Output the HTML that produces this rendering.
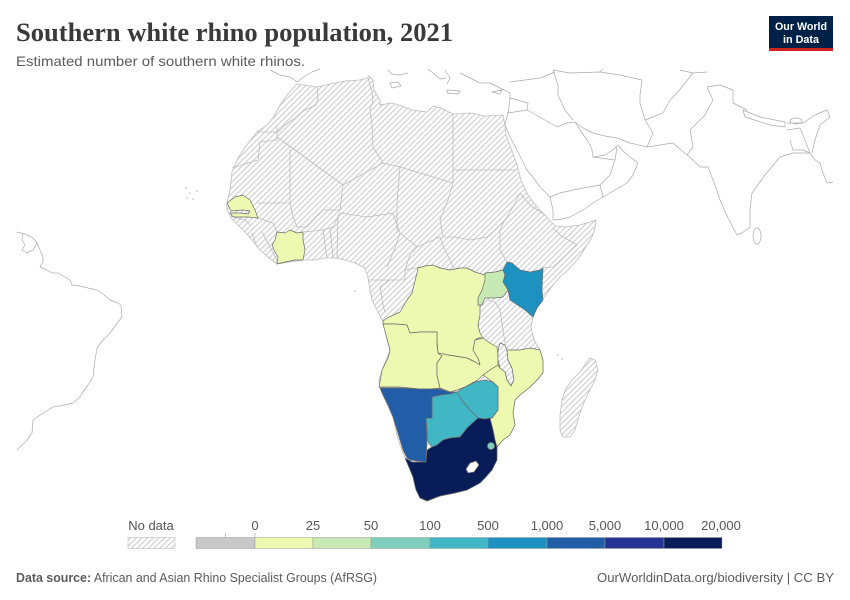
<!DOCTYPE html>
<html><head><meta charset="utf-8"><style>
html,body{margin:0;padding:0;background:#fff;}
svg{display:block;}
text{font-family:"Liberation Sans",sans-serif;}
</style></head><body>
<svg width="850" height="600" viewBox="0 0 850 600" xmlns="http://www.w3.org/2000/svg">
<defs>
<pattern id="h" width="4" height="4" patternUnits="userSpaceOnUse" patternTransform="rotate(45)">
<rect width="4" height="4" fill="#fff"/>
<line x1="0.6" y1="0" x2="0.6" y2="4" stroke="#d2d2d2" stroke-width="1.3"/>
</pattern>
<clipPath id="mc"><rect x="0" y="69" width="850" height="445"/></clipPath>
</defs>
<rect width="850" height="600" fill="#fff"/>

<!-- Header -->
<text x="16" y="41" font-size="26" font-weight="bold" fill="#3a3a3a" textLength="437" lengthAdjust="spacingAndGlyphs" style="font-family:'Liberation Serif',serif">Southern white rhino population, 2021</text>
<text x="16" y="66" font-size="14" fill="#5b5b5b" textLength="289" lengthAdjust="spacingAndGlyphs">Estimated number of southern white rhinos.</text>

<!-- Logo -->
<rect x="769" y="16" width="64" height="35" fill="#002147"/>
<rect x="769" y="48" width="64" height="3" fill="#ce261e"/>
<text x="801" y="30" font-size="11" font-weight="bold" fill="#fff" text-anchor="middle" textLength="52" lengthAdjust="spacingAndGlyphs">Our World</text>
<text x="801" y="43" font-size="11" font-weight="bold" fill="#fff" text-anchor="middle" textLength="36" lengthAdjust="spacingAndGlyphs">in Data</text>

<g clip-path="url(#mc)">
<!-- Africa base (no data) -->
<path fill="url(#h)" stroke="#bdbdbd" stroke-width="0.8" stroke-linejoin="round" d="M297,84 L317,87 L330,84 L345,81 L360,80 L367,78 L369,76 L373,80 L374,90 L380,100 L380,105 L392,103 L402,106 L412,110 L427,112 L433,106 L441,108 L453,114 L470,113 L485,116 L503,115 L505,125 L506,135 L511,148 L517,165 L521,180 L528,195 L537,207 L545,215 L551,222 L556,226 L566,227 L580,225 L590,222 L596,220 L595,228 L592,237 L584,250 L577,260 L568,270 L560,277 L553,285 L547,293 L542,300 L537,308 L533,317 L531,327 L534,340 L538,347 L540,350 L543,360 L543,373 L537,380 L530,387 L520,395 L515,400 L513,413 L515,425 L510,435 L503,440 L497,447 L497,460 L492,470 L480,483 L467,490 L450,494 L440,496 L427,501 L420,498 L415,487 L413,477 L408,465 L405,458 L400,445 L397,435 L393,417 L385,400 L380,388 L379,380 L382,370 L387,358 L390,350 L386,335 L383,322 L378,312 L372,300 L370,290 L368,278 L365,268 L355,263 L345,260 L335,258 L325,258 L315,260 L303,260 L290,262 L277,264 L268,257 L260,250 L252,240 L245,232 L238,225 L231,218 L227,210 L227,203 L230,190 L232,172 L238,158 L246,146 L257,132 L266,126 L273,118 L280,105 L287,95 Z"/>
<!-- Madagascar -->
<path fill="url(#h)" stroke="#bdbdbd" stroke-width="0.8" d="M590,358 L595,360 L598,370 L595,380 L590,390 L585,400 L580,413 L575,430 L570,437 L563,437 L560,430 L560,415 L562,400 L565,390 L572,380 L580,372 L587,362 Z"/>

<!-- internal no-data borders -->
<g fill="none" stroke="#bdbdbd" stroke-width="0.8" stroke-linejoin="round">
<path d="M317,87 L318,98 L316,105 L305,110 L295,118 L285,125 L278,132 L257,132"/>
<path d="M277,127 L277,140 L260,142 L258,160 L232,168"/>
<path d="M277,137 L343,185 L383,163"/>
<path d="M290,150 L290,203 L257,203"/>
<path d="M368,78 L372,92 L373,100 L370,110 L372,125 L373,147 L383,163 L400,167 L453,183"/>
<path d="M343,185 L340,210 L323,210"/>
<path d="M400,167 L397,203 L397,233"/>
<path d="M340,213 L367,217 L393,213 L400,233"/>
<path d="M453,183 L448,200 L440,220 L443,237"/>
<path d="M400,233 L417,247 L440,237"/>
<path d="M400,233 L395,248 L387,267"/>
<path d="M417,247 L410,255 L405,270 L405,280"/>
<path d="M368,280 L390,280 L405,280"/>
<path d="M390,280 L380,287 L383,305 L385,312"/>
<path d="M405,270 L420,267"/>
<path d="M443,237 L455,237 L470,240 L487,237 L498,227 L505,220 L513,207"/>
<path d="M440,237 L445,250 L455,270"/>
<path d="M505,220 L500,230 L500,250 L507,262"/>
<path d="M513,207 L520,193"/>
<path d="M520,193 L530,205 L545,215"/>
<path d="M553,228 L560,235 L577,245 L553,267 L540,268"/>
<path d="M453,114 L453,183"/>
<path d="M453,170 L517,170"/>
<path d="M290,203 L293,217 L297,227 L307,227 L323,210"/>
<path d="M303,232 L323,230 L333,227 L340,213"/>
<path d="M323,230 L327,258"/>
<path d="M330,228 L333,258"/>
<path d="M338,215 L337,258"/>
<path d="M258,218 L273,223 L277,232"/>
<path d="M233,217 L245,220 L250,225"/>
<path d="M252,233 L257,247"/>
<path d="M262,232 L270,247 L277,260"/>
<path d="M487,300 L495,302 L500,310 L505,343"/>
</g>

<!-- Colored countries -->
<g stroke="#6b6b6b" stroke-width="0.7" stroke-linejoin="round">
<path fill="#edf8b1" d="M383,321 L387,318 L400,312 L407,300 L412,293 L417,273 L418,268 L425,266 L433,265 L440,268 L450,270 L460,268 L467,268 L475,272 L485,275 L487,277 L485,290 L483,303 L480,305 L480,315 L478,325 L480,333 L483,338 L478,338 L475,340 L473,350 L478,358 L480,365 L475,362 L467,358 L455,356 L448,355 L442,356 L438,353 L437,340 L437,332 L430,332 L420,332 L410,333 L407,325 L395,324 L383,324 Z"/>
<path fill="#edf8b1" d="M383,324 L395,324 L407,325 L410,333 L420,332 L437,332 L437,345 L438,353 L442,356 L437,363 L437,375 L440,388 L430,389 L420,389 L410,388 L400,387 L390,387 L379,387 L382,370 L388,358 L390,350 L386,335 Z"/>
<path fill="#edf8b1" d="M438,353 L448,355 L467,358 L475,362 L480,365 L478,358 L473,350 L475,340 L483,338 L490,343 L497,347 L498,355 L498,365 L490,370 L483,375 L478,380 L472,383 L465,387 L457,390 L450,392 L440,388 L437,375 L437,363 L442,356 Z"/>
<path fill="url(#h)" d="M500,343 L505,345 L507,350 L508,360 L512,368 L514,380 L511,386 L507,380 L505,372 L500,368 L498,360 L498,350 Z"/>
<path fill="#edf8b1" d="M507,350 L520,350 L530,348 L540,350 L543,360 L543,373 L537,380 L530,387 L520,395 L515,400 L513,413 L515,425 L510,435 L503,440 L497,447 L495,440 L493,430 L490,418 L492,418 L498,410 L498,387 L493,382 L483,375 L490,370 L498,365 L500,368 L505,372 L507,380 L511,386 L514,380 L512,368 L508,360 Z"/>
<path fill="#41b6c4" d="M457,392 L465,387 L475,382 L485,380 L493,382 L498,387 L498,400 L498,410 L492,418 L485,419 L478,418 L470,410 L463,402 Z"/>
<path fill="#41b6c4" d="M432,397 L440,395 L450,393 L457,392 L463,402 L470,410 L478,418 L470,425 L460,437 L450,438 L443,440 L437,445 L432,447 L428,442 L427,430 L426,418 L432,418 Z"/>
<path fill="#225ea8" d="M380,388 L400,388 L420,389 L440,389 L450,392 L457,392 L450,394 L440,395 L432,397 L432,418 L426,418 L427,440 L426,462 L418,461 L410,460 L407,458 L403,450 L400,440 L397,430 L393,417 L388,405 L383,395 Z"/>
<path fill="#081d58" d="M405,458 L412,462 L420,462 L426,462 L427,450 L432,447 L437,445 L443,440 L450,438 L460,437 L467,428 L478,418 L485,419 L490,418 L493,430 L495,440 L497,447 L497,455 L497,460 L492,470 L485,478 L480,483 L467,490 L455,493 L440,496 L427,501 L420,498 L416,490 L413,477 L408,465 Z"/>
<path fill="#fff" d="M466,469 L470,463 L476,461 L479,465 L474,472 L468,473 Z"/>
<circle cx="491" cy="446" r="3.6" fill="#7fcdbb"/>
<path fill="#1d91c0" d="M507,262 L512,263 L520,270 L530,272 L540,270 L543,268 L542,290 L543,300 L537,308 L533,317 L525,310 L510,300 L508,290 L503,282 L505,275 L503,270 Z"/>
<path fill="#c7e9b4" d="M485,273 L495,272 L503,270 L505,275 L503,282 L508,290 L503,297 L495,298 L485,298 L482,305 L478,305 L478,298 L482,290 L485,280 Z"/>
<path fill="#edf8b1" d="M227,203 L235,197 L243,195 L250,200 L255,210 L258,218 L248,217 L233,217 L230,213 L241,213 L248,214 L250,211 L243,210 L231,211 Z"/>
<path fill="#edf8b1" d="M277,232 L285,233 L290,230 L297,233 L303,232 L303,240 L305,250 L303,260 L295,260 L285,262 L277,264 L278,257 L274,250 L272,245 L275,240 Z"/>
</g>

<!-- White-land outlines -->
<g fill="none" stroke="#aaa" stroke-width="0.7" stroke-linejoin="round">
<path d="M505,125 L510,137 L518,152 L527,170 L535,180 L540,187 L550,197 L553,210 L553,220 L562,219 L570,217 L583,210 L593,203 L603,197 L615,190 L627,183 L633,175 L638,163 L630,157 L622,150 L618,145 L613,150 L605,155 L593,157 L592,150 L590,145 L587,140 L580,130 L575,122"/>
<path d="M575,122 L583,128 L593,133 L605,136 L617,138 L630,143 L647,147 L660,145 L673,143 L687,155 L693,160 L700,167 L708,167 L715,185 L720,200 L728,218 L737,235 L742,233 L750,227 L750,210 L752,193 L765,175 L780,157 L793,153 L800,153 L810,153 L815,160 L820,163 L823,173 L827,183 L833,182"/>
<path d="M505,125 L508,113 L510,100 L510,93 L500,88 L490,83 L480,83 L470,78 L460,73"/>
<path d="M508,113 L527,110 L528,103 L510,98"/>
<path d="M527,110 L545,120 L557,127 L567,123 L575,122"/>
<path d="M510,82 L540,78 L555,72"/>
<path d="M553,70 L558,85 L558,95 L565,110 L573,120"/>
<path d="M550,197 L560,193 L573,190 L600,185 L603,197"/>
<path d="M600,185 L610,175 L615,160 L617,147"/>
<path d="M593,157 L615,160"/>
<path d="M642,80 L640,95 L640,103 L645,120 L653,133 L647,147"/>
<path d="M645,120 L663,113 L670,100 L677,93 L693,73"/>
<path d="M707,87 L713,100 L705,115 L690,130 L693,147 L687,155"/>
<path d="M707,87 L720,85 L733,90 L733,103 L747,110"/>
<path d="M743,110 L760,117 L785,122 L785,127 L770,125 L745,117 Z"/>
<ellipse cx="796" cy="121" rx="6" ry="3"/>
<path d="M787,130 L800,128 L805,140 L810,153 L803,150 L793,150 L790,140"/>
<path d="M787,123 L803,123 L815,115 L827,110 L830,117 L820,125 L815,140 L812,153"/>
<ellipse cx="757" cy="236" rx="4" ry="8"/>
<path d="M553,70 L570,73 L600,72 L620,75 L642,80"/>
<path d="M680,70 L693,73 L707,72"/>
<path d="M600,72 L603,69"/>
<path d="M270,70 L280,75 L290,77 L297,82 L305,76 L312,72 L320,69"/>
<path d="M388,70 L392,74 L400,75 L408,73"/>
<path d="M390,83 L398,82 L401,86 L392,88 Z"/>
<path d="M428,69 L433,73 L440,79 L446,78"/>
<path d="M445,70 L450,78 L447,84"/>
<path d="M447,90 L460,91 L458,94 L447,93 Z"/>
<path d="M492,92 L502,90 L500,94 Z"/>
<path d="M17,232 L25,234 L33,238 L37,243 L40,250 L43,257 L43,262 L40,267 L47,270 L52,273 L58,273 L65,277 L70,280 L72,285 L80,286 L88,288 L97,290 L103,294 L110,300 L118,303 L121,305 L122,317 L118,322 L110,333 L103,340 L97,348 L95,360 L93,377 L88,385 L83,392 L80,397 L73,403 L65,405 L53,407 L45,412 L37,417 L33,420 L32,433 L27,440 L22,445 L17,450"/>
<path d="M23,233 L22,240 L25,245 L22,250 L27,253 L33,250 L37,243"/>
</g>
<g fill="#bbb">
<circle cx="186" cy="188" r="0.8"/><circle cx="190" cy="193" r="0.8"/><circle cx="197" cy="191" r="0.8"/><circle cx="193" cy="199" r="0.8"/><circle cx="187" cy="198" r="0.8"/>
<circle cx="558" cy="355" r="0.8"/><circle cx="562" cy="359" r="0.8"/><circle cx="355" cy="291" r="0.8"/>
</g>
</g>

<!-- Legend -->
<g font-size="13" fill="#555">
<text x="151" y="530" text-anchor="middle">No data</text>
<text x="255" y="530" text-anchor="middle">0</text>
<text x="313" y="530" text-anchor="middle">25</text>
<text x="371" y="530" text-anchor="middle">50</text>
<text x="430" y="530" text-anchor="middle">100</text>
<text x="488" y="530" text-anchor="middle">500</text>
<text x="547" y="530" text-anchor="middle">1,000</text>
<text x="605" y="530" text-anchor="middle">5,000</text>
<text x="664" y="530" text-anchor="middle">10,000</text>
<text x="721" y="530" text-anchor="middle">20,000</text>
</g>
<rect x="128" y="537.5" width="47" height="11" fill="url(#h)" stroke="#bbb" stroke-width="0.6"/>
<g stroke="#999" stroke-width="0.5">
<rect x="196" y="537.5" width="59" height="11" fill="#c8c8c8"/>
<rect x="255" y="537.5" width="58" height="11" fill="#edf8b1"/>
<rect x="313" y="537.5" width="58" height="11" fill="#c7e9b4"/>
<rect x="371" y="537.5" width="59" height="11" fill="#7fcdbb"/>
<rect x="430" y="537.5" width="58" height="11" fill="#41b6c4"/>
<rect x="488" y="537.5" width="59" height="11" fill="#1d91c0"/>
<rect x="547" y="537.5" width="58" height="11" fill="#225ea8"/>
<rect x="605" y="537.5" width="59" height="11" fill="#253494"/>
<rect x="664" y="537.5" width="58" height="11" fill="#081d58"/>
</g>
<g stroke="#999" stroke-width="0.6">
<line x1="225.5" y1="533" x2="225.5" y2="537.5"/>
<line x1="255" y1="533" x2="255" y2="537.5"/>
</g>

<!-- Footer -->
<text x="16" y="582" font-size="13" fill="#5b5b5b" textLength="361" lengthAdjust="spacingAndGlyphs"><tspan font-weight="bold">Data source:</tspan> African and Asian Rhino Specialist Groups (AfRSG)</text>
<text x="834" y="582" font-size="13" fill="#5b5b5b" text-anchor="end" textLength="237" lengthAdjust="spacingAndGlyphs">OurWorldinData.org/biodiversity | CC BY</text>
</svg>
</body></html>
